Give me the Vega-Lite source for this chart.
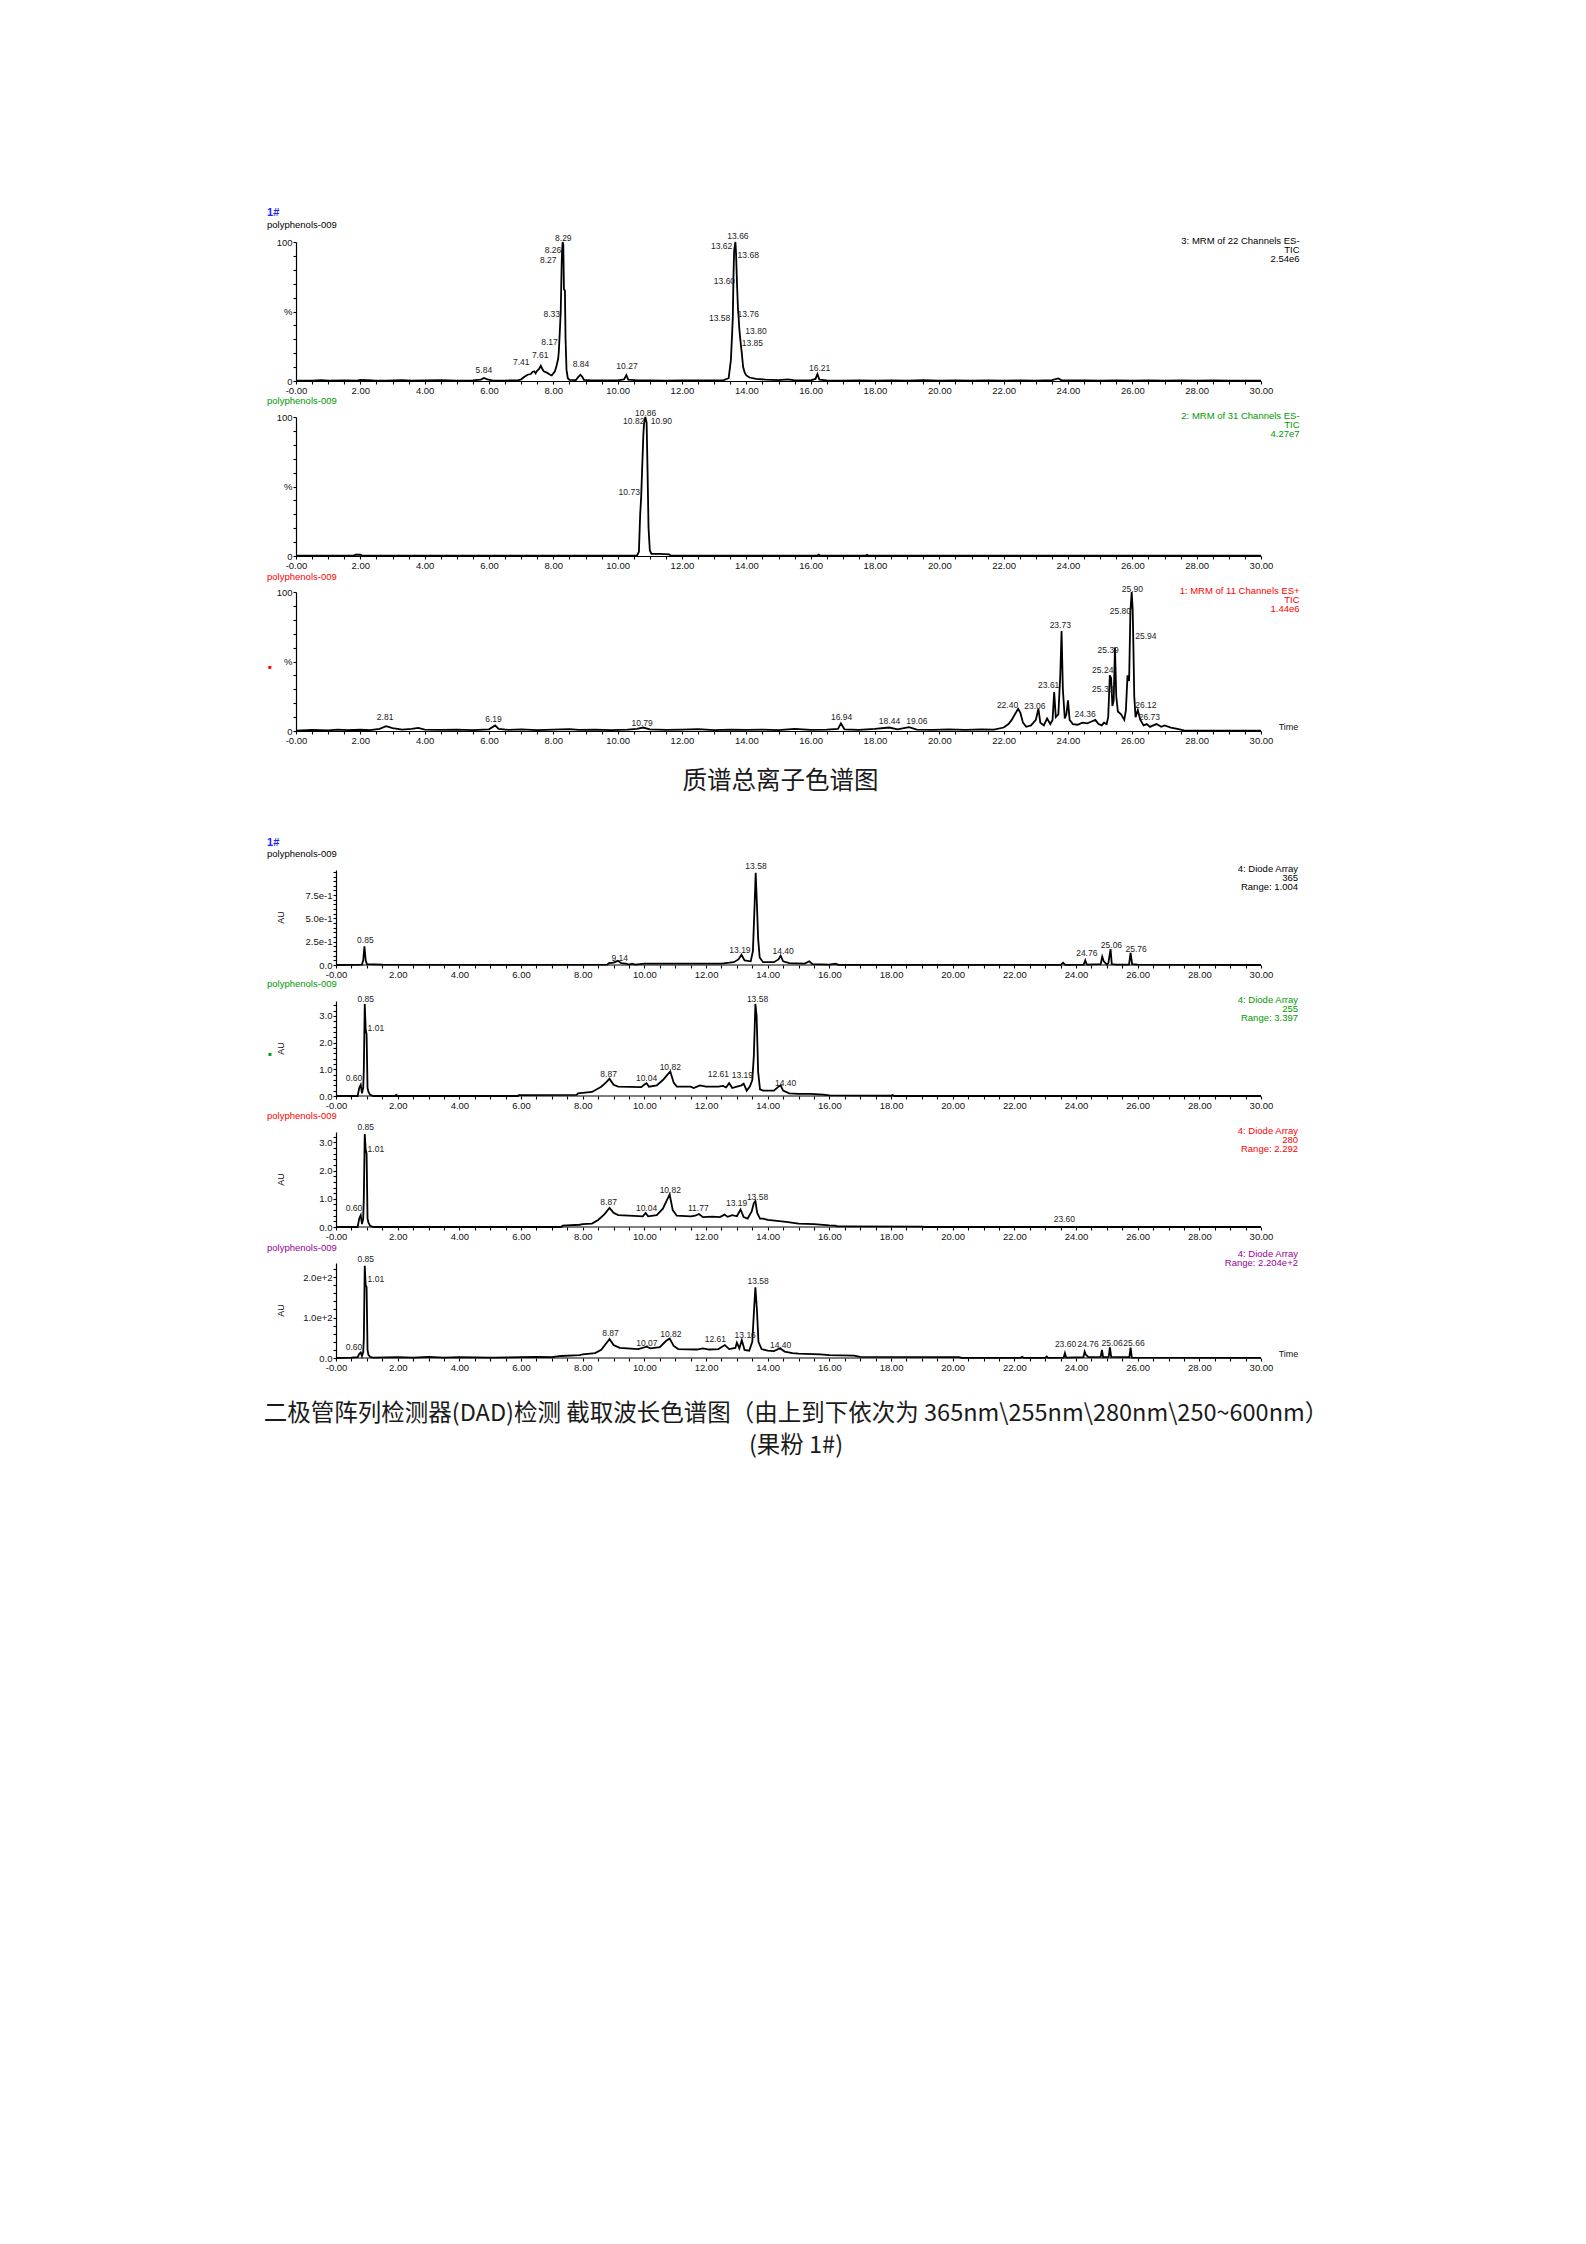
{
  "$schema": "https://vega.github.io/schema/vega-lite/v6.json",
  "description": "Chromatograms of sample polyphenols-009 (fruit powder 1#): three MRM TIC traces and four DAD wavelength traces",
  "background": "white",
  "padding": {"left": 263, "top": 207, "right": 20, "bottom": 20},
  "spacing": 36,
  "bounds": "flush",
  "config": {
    "view": {"stroke": null},
    "font": "Liberation Sans",
    "axis": {
      "labelFont": "Liberation Sans",
      "labelFontSize": 9.5,
      "labelColor": "#111111",
      "domainColor": "#000000",
      "domainWidth": 1.2,
      "tickColor": "#000000",
      "tickWidth": 1.1,
      "tickSize": 3,
      "labelPadding": 1,
      "grid": false,
      "labelOverlap": false,
      "labelFlush": false,
      "titleFont": "Liberation Sans",
      "titleFontSize": 9,
      "titleFontWeight": "normal",
      "titleColor": "#111111"
    },
    "text": {"font": "Liberation Sans", "fontSize": 9.5},
    "line": {"color": "black", "strokeWidth": 1.8}
  },
  "datasets": {
    "mrm1": [{"t":0,"v":0.2},{"t":0.5,"v":0.3},{"t":0.8,"v":0.6},{"t":1.0,"v":0.3},{"t":1.5,"v":0.5},{"t":1.9,"v":0.3},{"t":2.0,"v":0.8},{"t":2.4,"v":0.4},{"t":2.8,"v":0.3},{"t":3.3,"v":0.6},{"t":3.6,"v":0.3},{"t":4.0,"v":0.4},{"t":4.5,"v":0.6},{"t":5.0,"v":0.3},{"t":5.5,"v":0.4},{"t":5.75,"v":1.0},{"t":5.84,"v":2.2},{"t":5.95,"v":1.2},{"t":6.1,"v":0.4},{"t":6.5,"v":0.3},{"t":6.9,"v":0.5},{"t":7.0,"v":1.2},{"t":7.1,"v":3},{"t":7.2,"v":4.5},{"t":7.3,"v":5},{"t":7.35,"v":6.5},{"t":7.41,"v":7},{"t":7.45,"v":5.5},{"t":7.5,"v":7.5},{"t":7.55,"v":8.5},{"t":7.61,"v":11},{"t":7.65,"v":9},{"t":7.7,"v":7},{"t":7.8,"v":6},{"t":7.9,"v":4.5},{"t":7.95,"v":4},{"t":8.0,"v":5.5},{"t":8.05,"v":7},{"t":8.1,"v":11},{"t":8.15,"v":16},{"t":8.17,"v":21},{"t":8.2,"v":35},{"t":8.23,"v":50},{"t":8.26,"v":85},{"t":8.27,"v":93},{"t":8.29,"v":100},{"t":8.31,"v":98},{"t":8.33,"v":66},{"t":8.36,"v":65},{"t":8.38,"v":30},{"t":8.41,"v":8},{"t":8.45,"v":2},{"t":8.5,"v":0.8},{"t":8.7,"v":0.6},{"t":8.78,"v":3},{"t":8.84,"v":4.5},{"t":8.9,"v":3},{"t":8.95,"v":0.8},{"t":9.2,"v":0.4},{"t":9.6,"v":0.5},{"t":10.0,"v":0.4},{"t":10.2,"v":1.2},{"t":10.27,"v":4.2},{"t":10.33,"v":1},{"t":10.6,"v":0.4},{"t":11.0,"v":0.5},{"t":11.5,"v":0.3},{"t":12.0,"v":0.5},{"t":12.5,"v":0.4},{"t":13.0,"v":0.5},{"t":13.3,"v":0.6},{"t":13.45,"v":2},{"t":13.52,"v":15},{"t":13.56,"v":35},{"t":13.58,"v":46},{"t":13.6,"v":75},{"t":13.62,"v":93},{"t":13.64,"v":97},{"t":13.66,"v":100},{"t":13.68,"v":92},{"t":13.71,"v":70},{"t":13.74,"v":52},{"t":13.76,"v":46},{"t":13.78,"v":38},{"t":13.8,"v":33},{"t":13.83,"v":26},{"t":13.85,"v":22},{"t":13.9,"v":10},{"t":13.95,"v":6},{"t":14.0,"v":4},{"t":14.1,"v":2.5},{"t":14.3,"v":1.5},{"t":14.6,"v":1},{"t":15.0,"v":0.7},{"t":15.3,"v":1.2},{"t":15.5,"v":0.5},{"t":16.0,"v":0.4},{"t":16.15,"v":1.5},{"t":16.21,"v":5},{"t":16.27,"v":1},{"t":16.5,"v":0.4},{"t":17,"v":0.3},{"t":17.5,"v":0.5},{"t":18,"v":0.3},{"t":18.5,"v":0.5},{"t":19,"v":0.3},{"t":19.5,"v":0.6},{"t":20,"v":0.3},{"t":20.5,"v":0.5},{"t":21,"v":0.3},{"t":21.5,"v":0.4},{"t":22,"v":0.3},{"t":22.5,"v":0.5},{"t":23,"v":0.3},{"t":23.5,"v":0.6},{"t":23.7,"v":1.8},{"t":23.8,"v":0.5},{"t":24,"v":0.4},{"t":24.5,"v":0.5},{"t":25,"v":0.3},{"t":25.5,"v":0.4},{"t":26,"v":0.3},{"t":26.5,"v":0.5},{"t":27,"v":0.3},{"t":27.5,"v":0.4},{"t":28,"v":0.3},{"t":28.5,"v":0.4},{"t":29,"v":0.3},{"t":29.5,"v":0.2},{"t":30,"v":0.2}],
    "mrm1_pk": [{"t":5.84,"v":8,"lab":"5.84"},{"t":7.0,"v":14,"lab":"7.41"},{"t":7.59,"v":19,"lab":"7.61"},{"t":7.88,"v":28,"lab":"8.17"},{"t":7.95,"v":48,"lab":"8.33"},{"t":7.84,"v":87,"lab":"8.27"},{"t":7.99,"v":94,"lab":"8.26"},{"t":8.31,"v":103,"lab":"8.29"},{"t":8.86,"v":12,"lab":"8.84"},{"t":10.29,"v":11,"lab":"10.27"},{"t":13.74,"v":104,"lab":"13.66"},{"t":13.23,"v":97,"lab":"13.62"},{"t":14.06,"v":91,"lab":"13.68"},{"t":13.32,"v":72,"lab":"13.60"},{"t":13.17,"v":45,"lab":"13.58"},{"t":14.06,"v":48,"lab":"13.76"},{"t":14.3,"v":36,"lab":"13.80"},{"t":14.19,"v":27,"lab":"13.85"},{"t":16.28,"v":9,"lab":"16.21"}],
    "mrm2": [{"t":0,"v":0.2},{"t":1.8,"v":0.3},{"t":1.85,"v":0.9},{"t":2.0,"v":0.9},{"t":2.05,"v":0.3},{"t":4,"v":0.2},{"t":8,"v":0.2},{"t":10.6,"v":0.2},{"t":10.66,"v":3},{"t":10.7,"v":30},{"t":10.73,"v":42},{"t":10.76,"v":62},{"t":10.8,"v":88},{"t":10.82,"v":95},{"t":10.86,"v":100},{"t":10.88,"v":98},{"t":10.9,"v":96},{"t":10.93,"v":60},{"t":10.96,"v":20},{"t":11.0,"v":4},{"t":11.05,"v":1.5},{"t":11.3,"v":1.5},{"t":11.6,"v":1.2},{"t":11.65,"v":0.2},{"t":16.2,"v":0.2},{"t":16.25,"v":1},{"t":16.3,"v":0.2},{"t":17.7,"v":0.2},{"t":17.75,"v":0.8},{"t":17.8,"v":0.2},{"t":30,"v":0.2}],
    "mrm2_pk": [{"t":10.87,"v":103,"lab":"10.86"},{"t":10.5,"v":97,"lab":"10.82"},{"t":11.36,"v":97,"lab":"10.90"},{"t":10.36,"v":46,"lab":"10.73"}],
    "mrm3": [{"t":0,"v":0.3},{"t":0.5,"v":0.8},{"t":1.0,"v":0.5},{"t":1.3,"v":1.0},{"t":1.6,"v":0.6},{"t":2.0,"v":0.9},{"t":2.3,"v":0.6},{"t":2.6,"v":1.5},{"t":2.8,"v":3.5},{"t":3.0,"v":2},{"t":3.3,"v":1},{"t":3.6,"v":1.5},{"t":3.8,"v":2.2},{"t":4.0,"v":1},{"t":4.5,"v":0.8},{"t":5.0,"v":1.0},{"t":5.5,"v":0.7},{"t":6.0,"v":1.2},{"t":6.19,"v":4},{"t":6.3,"v":1.5},{"t":6.6,"v":0.8},{"t":7.0,"v":1.2},{"t":7.5,"v":0.7},{"t":8.0,"v":1},{"t":8.5,"v":1.3},{"t":8.8,"v":0.8},{"t":9.3,"v":1},{"t":9.8,"v":0.7},{"t":10.3,"v":1.0},{"t":10.6,"v":1.5},{"t":10.79,"v":2.5},{"t":11.0,"v":1.2},{"t":11.5,"v":0.8},{"t":12.0,"v":1},{"t":12.5,"v":1.3},{"t":13.0,"v":0.7},{"t":13.5,"v":1.0},{"t":14.0,"v":0.8},{"t":14.5,"v":1},{"t":15.0,"v":0.7},{"t":15.5,"v":1.5},{"t":16.0,"v":0.8},{"t":16.5,"v":1},{"t":16.85,"v":1.5},{"t":16.94,"v":5.5},{"t":17.05,"v":1.2},{"t":17.5,"v":0.8},{"t":18.0,"v":1.5},{"t":18.44,"v":2.5},{"t":18.7,"v":1.2},{"t":19.06,"v":2.8},{"t":19.3,"v":1.0},{"t":19.8,"v":0.8},{"t":20.3,"v":1.2},{"t":20.8,"v":0.8},{"t":21.3,"v":1.2},{"t":21.7,"v":1.0},{"t":22.0,"v":2.5},{"t":22.15,"v":5},{"t":22.25,"v":8},{"t":22.35,"v":12},{"t":22.45,"v":16},{"t":22.52,"v":13},{"t":22.6,"v":6},{"t":22.7,"v":3},{"t":22.85,"v":4},{"t":23.0,"v":8},{"t":23.08,"v":16},{"t":23.14,"v":6},{"t":23.25,"v":4},{"t":23.35,"v":9},{"t":23.45,"v":5},{"t":23.52,"v":8},{"t":23.57,"v":28},{"t":23.62,"v":10},{"t":23.7,"v":12},{"t":23.76,"v":40},{"t":23.8,"v":72},{"t":23.84,"v":30},{"t":23.9,"v":9},{"t":23.95,"v":12},{"t":24.0,"v":22},{"t":24.05,"v":8},{"t":24.15,"v":5},{"t":24.3,"v":4.5},{"t":24.45,"v":6},{"t":24.6,"v":5.5},{"t":24.75,"v":7},{"t":24.85,"v":8},{"t":24.95,"v":5},{"t":25.05,"v":4},{"t":25.12,"v":6},{"t":25.2,"v":5},{"t":25.25,"v":10},{"t":25.3,"v":40},{"t":25.34,"v":38},{"t":25.38,"v":18},{"t":25.42,"v":22},{"t":25.46,"v":60},{"t":25.5,"v":25},{"t":25.55,"v":14},{"t":25.65,"v":12},{"t":25.75,"v":8},{"t":25.8,"v":15},{"t":25.85,"v":40},{"t":25.9,"v":36},{"t":25.94,"v":86},{"t":25.98,"v":100},{"t":26.01,"v":88},{"t":26.03,"v":65},{"t":26.06,"v":25},{"t":26.1,"v":10},{"t":26.17,"v":15},{"t":26.25,"v":8},{"t":26.35,"v":4},{"t":26.45,"v":5},{"t":26.55,"v":3},{"t":26.65,"v":4},{"t":26.75,"v":5},{"t":26.9,"v":3},{"t":27.0,"v":4},{"t":27.2,"v":2.5},{"t":27.4,"v":1.5},{"t":27.6,"v":0.5},{"t":28.0,"v":0.3},{"t":29,"v":0.3},{"t":30,"v":0.3}],
    "mrm3_pk": [{"t":2.77,"v":10,"lab":"2.81"},{"t":6.14,"v":8.5,"lab":"6.19"},{"t":10.76,"v":6,"lab":"10.79"},{"t":16.96,"v":10,"lab":"16.94"},{"t":18.45,"v":7,"lab":"18.44"},{"t":19.3,"v":7,"lab":"19.06"},{"t":22.12,"v":19,"lab":"22.40"},{"t":22.97,"v":18,"lab":"23.06"},{"t":23.4,"v":33,"lab":"23.61"},{"t":23.76,"v":76,"lab":"23.73"},{"t":24.53,"v":12,"lab":"24.36"},{"t":25.08,"v":30,"lab":"25.33"},{"t":25.08,"v":44,"lab":"25.24"},{"t":25.25,"v":58,"lab":"25.39"},{"t":25.63,"v":86,"lab":"25.80"},{"t":26.0,"v":102,"lab":"25.90"},{"t":26.42,"v":68,"lab":"25.94"},{"t":26.42,"v":19,"lab":"26.12"},{"t":26.53,"v":10,"lab":"26.73"}],
    "dad1": [{"t":0,"v":0},{"t":0.5,"v":0.002},{"t":0.84,"v":0.005},{"t":0.88,"v":0.05},{"t":0.92,"v":0.2},{"t":0.96,"v":0.05},{"t":1.0,"v":0.01},{"t":1.5,"v":0.003},{"t":5,"v":0.002},{"t":8.8,"v":0.003},{"t":8.85,"v":0.02},{"t":9.0,"v":0.025},{"t":9.14,"v":0.045},{"t":9.25,"v":0.02},{"t":9.4,"v":0.015},{"t":9.5,"v":0.005},{"t":9.6,"v":0.015},{"t":9.7,"v":0.005},{"t":10.0,"v":0.015},{"t":12.5,"v":0.015},{"t":12.9,"v":0.03},{"t":13.05,"v":0.06},{"t":13.15,"v":0.11},{"t":13.25,"v":0.05},{"t":13.45,"v":0.04},{"t":13.52,"v":0.15},{"t":13.57,"v":0.6},{"t":13.61,"v":0.99},{"t":13.65,"v":0.65},{"t":13.69,"v":0.28},{"t":13.74,"v":0.08},{"t":13.85,"v":0.03},{"t":14.2,"v":0.03},{"t":14.35,"v":0.06},{"t":14.42,"v":0.1},{"t":14.5,"v":0.04},{"t":14.7,"v":0.02},{"t":15.2,"v":0.015},{"t":15.35,"v":0.04},{"t":15.45,"v":0.01},{"t":16.0,"v":0.005},{"t":16.2,"v":0.015},{"t":16.3,"v":0.002},{"t":23.5,"v":0.002},{"t":23.58,"v":0.025},{"t":23.65,"v":0.002},{"t":24.25,"v":0.005},{"t":24.3,"v":0.05},{"t":24.35,"v":0.005},{"t":24.8,"v":0.01},{"t":24.85,"v":0.09},{"t":24.9,"v":0.04},{"t":25.0,"v":0.005},{"t":25.05,"v":0.02},{"t":25.12,"v":0.17},{"t":25.16,"v":0.01},{"t":25.3,"v":0.003},{"t":25.72,"v":0.005},{"t":25.77,"v":0.13},{"t":25.82,"v":0.01},{"t":26.0,"v":0.003},{"t":30,"v":0}],
    "dad1_pk": [{"t":0.95,"v":0.27,"lab":"0.85"},{"t":9.2,"v":0.08,"lab":"9.14"},{"t":13.1,"v":0.16,"lab":"13.19"},{"t":13.62,"v":1.06,"lab":"13.58"},{"t":14.5,"v":0.15,"lab":"14.40"},{"t":24.35,"v":0.13,"lab":"24.76"},{"t":25.15,"v":0.22,"lab":"25.06"},{"t":25.95,"v":0.17,"lab":"25.76"}],
    "dad2": [{"t":0,"v":0},{"t":0.7,"v":0},{"t":0.75,"v":0.3},{"t":0.8,"v":0.42},{"t":0.84,"v":0.1},{"t":0.88,"v":0.3},{"t":0.9,"v":1.0},{"t":0.93,"v":3.45},{"t":0.96,"v":2.5},{"t":0.99,"v":2.3},{"t":1.02,"v":0.3},{"t":1.05,"v":0.15},{"t":1.1,"v":0.05},{"t":1.2,"v":0},{"t":1.9,"v":0},{"t":1.95,"v":0.04},{"t":2.0,"v":0},{"t":5.9,"v":0},{"t":5.92,"v":0.03},{"t":7.8,"v":0.04},{"t":7.85,"v":0.1},{"t":8.3,"v":0.15},{"t":8.6,"v":0.35},{"t":8.75,"v":0.5},{"t":8.87,"v":0.65},{"t":9.0,"v":0.42},{"t":9.15,"v":0.35},{"t":9.9,"v":0.33},{"t":10.0,"v":0.43},{"t":10.07,"v":0.48},{"t":10.15,"v":0.35},{"t":10.4,"v":0.4},{"t":10.6,"v":0.6},{"t":10.75,"v":0.8},{"t":10.84,"v":0.92},{"t":10.95,"v":0.5},{"t":11.05,"v":0.35},{"t":11.5,"v":0.35},{"t":11.6,"v":0.3},{"t":11.8,"v":0.4},{"t":12.0,"v":0.35},{"t":12.4,"v":0.35},{"t":12.55,"v":0.38},{"t":12.65,"v":0.32},{"t":12.75,"v":0.48},{"t":12.85,"v":0.3},{"t":13.0,"v":0.35},{"t":13.15,"v":0.4},{"t":13.22,"v":0.46},{"t":13.32,"v":0.2},{"t":13.42,"v":0.35},{"t":13.5,"v":0.6},{"t":13.55,"v":1.5},{"t":13.6,"v":3.45},{"t":13.64,"v":3.0},{"t":13.69,"v":0.9},{"t":13.75,"v":0.25},{"t":13.85,"v":0.2},{"t":14.2,"v":0.2},{"t":14.35,"v":0.35},{"t":14.42,"v":0.4},{"t":14.5,"v":0.2},{"t":14.7,"v":0.1},{"t":15.0,"v":0.08},{"t":15.4,"v":0.08},{"t":15.8,"v":0.05},{"t":16.0,"v":0.02},{"t":18.0,"v":0.01},{"t":18.05,"v":0.04},{"t":18.1,"v":0},{"t":30,"v":0}],
    "dad2_pk": [{"t":0.58,"v":0.67,"lab":"0.60"},{"t":0.96,"v":3.62,"lab":"0.85"},{"t":1.29,"v":2.56,"lab":"1.01"},{"t":8.84,"v":0.82,"lab":"8.87"},{"t":10.07,"v":0.67,"lab":"10.04"},{"t":10.84,"v":1.1,"lab":"10.82"},{"t":12.4,"v":0.83,"lab":"12.61"},{"t":13.18,"v":0.8,"lab":"13.19"},{"t":13.67,"v":3.64,"lab":"13.58"},{"t":14.58,"v":0.5,"lab":"14.40"}],
    "dad3": [{"t":0,"v":0},{"t":0.7,"v":0},{"t":0.75,"v":0.3},{"t":0.8,"v":0.42},{"t":0.84,"v":0.1},{"t":0.88,"v":0.3},{"t":0.9,"v":1.05},{"t":0.93,"v":3.3},{"t":0.96,"v":2.75},{"t":0.99,"v":2.6},{"t":1.02,"v":0.3},{"t":1.05,"v":0.15},{"t":1.1,"v":0.05},{"t":1.2,"v":0},{"t":7.3,"v":0},{"t":7.35,"v":0.05},{"t":7.9,"v":0.08},{"t":8.0,"v":0.1},{"t":8.3,"v":0.12},{"t":8.5,"v":0.25},{"t":8.7,"v":0.45},{"t":8.87,"v":0.68},{"t":9.0,"v":0.5},{"t":9.15,"v":0.42},{"t":9.5,"v":0.4},{"t":9.95,"v":0.38},{"t":10.04,"v":0.5},{"t":10.12,"v":0.38},{"t":10.4,"v":0.42},{"t":10.6,"v":0.65},{"t":10.75,"v":1.0},{"t":10.82,"v":1.15},{"t":10.92,"v":0.6},{"t":11.05,"v":0.4},{"t":11.5,"v":0.38},{"t":11.65,"v":0.4},{"t":11.77,"v":0.46},{"t":11.9,"v":0.35},{"t":12.2,"v":0.37},{"t":12.45,"v":0.35},{"t":12.6,"v":0.44},{"t":12.7,"v":0.36},{"t":12.85,"v":0.42},{"t":13.0,"v":0.38},{"t":13.12,"v":0.62},{"t":13.22,"v":0.35},{"t":13.35,"v":0.3},{"t":13.48,"v":0.55},{"t":13.55,"v":0.85},{"t":13.6,"v":0.92},{"t":13.66,"v":0.5},{"t":13.75,"v":0.3},{"t":13.85,"v":0.3},{"t":14.0,"v":0.25},{"t":14.3,"v":0.22},{"t":14.6,"v":0.18},{"t":15.0,"v":0.12},{"t":15.5,"v":0.1},{"t":16.0,"v":0.06},{"t":16.2,"v":0.05},{"t":16.25,"v":0.02},{"t":19.0,"v":0.01},{"t":19.1,"v":0},{"t":30,"v":0}],
    "dad3_pk": [{"t":0.58,"v":0.67,"lab":"0.60"},{"t":0.96,"v":3.55,"lab":"0.85"},{"t":1.29,"v":2.75,"lab":"1.01"},{"t":8.84,"v":0.88,"lab":"8.87"},{"t":10.07,"v":0.67,"lab":"10.04"},{"t":10.84,"v":1.33,"lab":"10.82"},{"t":11.75,"v":0.67,"lab":"11.77"},{"t":12.99,"v":0.85,"lab":"13.19"},{"t":13.67,"v":1.08,"lab":"13.58"},{"t":23.62,"v":0.27,"lab":"23.60"}],
    "dad4": [{"t":0,"v":0},{"t":0.5,"v":1},{"t":0.7,"v":2},{"t":0.75,"v":10},{"t":0.8,"v":14},{"t":0.84,"v":5},{"t":0.88,"v":15},{"t":0.9,"v":47},{"t":0.93,"v":228},{"t":0.96,"v":180},{"t":0.99,"v":175},{"t":1.02,"v":20},{"t":1.05,"v":8},{"t":1.1,"v":3},{"t":1.2,"v":1},{"t":2.0,"v":2},{"t":2.5,"v":1},{"t":3.0,"v":3},{"t":3.5,"v":1},{"t":4.0,"v":2},{"t":5.0,"v":1},{"t":6.0,"v":2},{"t":6.5,"v":3},{"t":7.0,"v":2},{"t":7.3,"v":5},{"t":7.9,"v":7},{"t":8.0,"v":9},{"t":8.4,"v":12},{"t":8.6,"v":20},{"t":8.87,"v":47},{"t":9.0,"v":32},{"t":9.2,"v":25},{"t":9.8,"v":22},{"t":10.07,"v":28},{"t":10.2,"v":24},{"t":10.5,"v":27},{"t":10.7,"v":42},{"t":10.82,"v":48},{"t":10.95,"v":30},{"t":11.1,"v":22},{"t":11.7,"v":21},{"t":11.9,"v":24},{"t":12.1,"v":21},{"t":12.4,"v":22},{"t":12.61,"v":32},{"t":12.75,"v":22},{"t":12.95,"v":25},{"t":13.0,"v":38},{"t":13.08,"v":24},{"t":13.16,"v":44},{"t":13.25,"v":20},{"t":13.4,"v":18},{"t":13.5,"v":40},{"t":13.55,"v":110},{"t":13.6,"v":175},{"t":13.65,"v":120},{"t":13.7,"v":40},{"t":13.8,"v":22},{"t":14.0,"v":18},{"t":14.2,"v":17},{"t":14.4,"v":24},{"t":14.55,"v":16},{"t":14.8,"v":12},{"t":15.0,"v":11},{"t":15.7,"v":9},{"t":16.0,"v":7},{"t":16.8,"v":6},{"t":17.0,"v":3},{"t":20.2,"v":2},{"t":20.3,"v":0.5},{"t":22.2,"v":0.5},{"t":22.25,"v":3},{"t":22.3,"v":0.5},{"t":23.0,"v":0.5},{"t":23.05,"v":4},{"t":23.1,"v":0.5},{"t":23.6,"v":1},{"t":23.64,"v":12},{"t":23.68,"v":1},{"t":24.24,"v":2},{"t":24.28,"v":16},{"t":24.32,"v":8},{"t":24.4,"v":2},{"t":24.8,"v":3},{"t":24.84,"v":20},{"t":24.88,"v":2},{"t":25.06,"v":3},{"t":25.1,"v":26},{"t":25.14,"v":3},{"t":25.73,"v":2},{"t":25.77,"v":26},{"t":25.81,"v":1},{"t":30,"v":0.5}],
    "dad4_pk": [{"t":0.58,"v":26,"lab":"0.60"},{"t":0.96,"v":244,"lab":"0.85"},{"t":1.29,"v":195,"lab":"1.01"},{"t":8.9,"v":62,"lab":"8.87"},{"t":10.08,"v":36,"lab":"10.07"},{"t":10.86,"v":60,"lab":"10.82"},{"t":12.3,"v":46,"lab":"12.61"},{"t":13.27,"v":58,"lab":"13.16"},{"t":13.69,"v":190,"lab":"13.58"},{"t":14.42,"v":33,"lab":"14.40"},{"t":23.66,"v":35,"lab":"23.60"},{"t":24.39,"v":35,"lab":"24.76"},{"t":25.17,"v":37,"lab":"25.06"},{"t":25.88,"v":37,"lab":"25.66"}]
  },
  "vconcat": [
    {
      "width": 965,
      "height": 139,
      "encoding": {
        "x": {"field": "t", "type": "quantitative", "scale": {"domain": [0, 30], "nice": false, "zero": false},
              "axis": {"title": null, "values": [0,0.5,1,1.5,2,2.5,3,3.5,4,4.5,5,5.5,6,6.5,7,7.5,8,8.5,9,9.5,10,10.5,11,11.5,12,12.5,13,13.5,14,14.5,15,15.5,16,16.5,17,17.5,18,18.5,19,19.5,20,20.5,21,21.5,22,22.5,23,23.5,24,24.5,25,25.5,26,26.5,27,27.5,28,28.5,29,29.5,30],
                       "labelExpr": "datum.value % 2 === 0 ? (datum.value === 0 ? '-0.00' : format(datum.value, '.2f')) : ''"}},
        "y": {"field": "v", "type": "quantitative", "scale": {"domain": [0, 100], "nice": false},
              "axis": {"title": null, "values": [0,10,20,30,40,50,60,70,80,90,100],
                       "labelExpr": "datum.value === 100 ? '100' : datum.value === 50 ? '%' : datum.value === 0 ? '0' : ''"}}
      },
      "layer": [
        {"data": {"name": "mrm1"}, "mark": {"type": "line"}},
        {"data": {"name": "mrm1_pk"}, "mark": {"type": "text", "fontSize": 8.5, "color": "#222222"}, "encoding": {"text": {"field": "lab"}}},
        {"data": {"values": [{"t": -0.9, "v": 100, "txt": "polyphenols-009"}]}, "mark": {"type": "text", "align": "left", "dy": -17, "color": "black"}, "encoding": {"text": {"field": "txt"}}},
        {"data": {"values": [{"t": -0.9, "v": 100, "txt": "1#"}]}, "mark": {"type": "text", "align": "left", "dy": -29, "fontSize": 11, "fontWeight": "bold", "color": "#1f1fff"}, "encoding": {"text": {"field": "txt"}}},
        {"data": {"values": [{"t": 31.2, "v": 100, "txt": "3: MRM of 22 Channels ES-\nTIC\n2.54e6"}]}, "mark": {"type": "text", "align": "right", "baseline": "bottom", "dy": 4, "lineBreak": "\n", "lineHeight": 9, "color": "black"}, "encoding": {"text": {"field": "txt"}}}
      ]
    },
    {
      "width": 965,
      "height": 139,
      "encoding": {
        "x": {"field": "t", "type": "quantitative", "scale": {"domain": [0, 30], "nice": false, "zero": false},
              "axis": {"title": null, "values": [0,0.5,1,1.5,2,2.5,3,3.5,4,4.5,5,5.5,6,6.5,7,7.5,8,8.5,9,9.5,10,10.5,11,11.5,12,12.5,13,13.5,14,14.5,15,15.5,16,16.5,17,17.5,18,18.5,19,19.5,20,20.5,21,21.5,22,22.5,23,23.5,24,24.5,25,25.5,26,26.5,27,27.5,28,28.5,29,29.5,30],
                       "labelExpr": "datum.value % 2 === 0 ? (datum.value === 0 ? '-0.00' : format(datum.value, '.2f')) : ''"}},
        "y": {"field": "v", "type": "quantitative", "scale": {"domain": [0, 100], "nice": false},
              "axis": {"title": null, "values": [0,10,20,30,40,50,60,70,80,90,100],
                       "labelExpr": "datum.value === 100 ? '100' : datum.value === 50 ? '%' : datum.value === 0 ? '0' : ''"}}
      },
      "layer": [
        {"data": {"name": "mrm2"}, "mark": {"type": "line"}},
        {"data": {"name": "mrm2_pk"}, "mark": {"type": "text", "fontSize": 8.5, "color": "#222222"}, "encoding": {"text": {"field": "lab"}}},
        {"data": {"values": [{"t": -0.9, "v": 100, "txt": "polyphenols-009"}]}, "mark": {"type": "text", "align": "left", "dy": -16, "color": "#009900"}, "encoding": {"text": {"field": "txt"}}},
        {"data": {"values": [{"t": 31.2, "v": 100, "txt": "2: MRM of 31 Channels ES-\nTIC\n4.27e7"}]}, "mark": {"type": "text", "align": "right", "baseline": "bottom", "dy": 4, "lineBreak": "\n", "lineHeight": 9, "color": "#009900"}, "encoding": {"text": {"field": "txt"}}}
      ]
    },
    {
      "width": 965,
      "height": 139,
      "title": {"text": "质谱总离子色谱图", "orient": "bottom", "anchor": "middle", "frame": "group", "offset": 25, "dx": 2, "fontSize": 24.5, "font": "Noto Sans CJK SC", "fontWeight": "normal", "color": "#1a1a1a"},
      "encoding": {
        "x": {"field": "t", "type": "quantitative", "scale": {"domain": [0, 30], "nice": false, "zero": false},
              "axis": {"title": "Time", "titleX": 992, "titleY": 0, "titleAlign": "center", "titleBaseline": "bottom",
                       "values": [0,0.5,1,1.5,2,2.5,3,3.5,4,4.5,5,5.5,6,6.5,7,7.5,8,8.5,9,9.5,10,10.5,11,11.5,12,12.5,13,13.5,14,14.5,15,15.5,16,16.5,17,17.5,18,18.5,19,19.5,20,20.5,21,21.5,22,22.5,23,23.5,24,24.5,25,25.5,26,26.5,27,27.5,28,28.5,29,29.5,30],
                       "labelExpr": "datum.value % 2 === 0 ? (datum.value === 0 ? '-0.00' : format(datum.value, '.2f')) : ''"}},
        "y": {"field": "v", "type": "quantitative", "scale": {"domain": [0, 100], "nice": false},
              "axis": {"title": null, "values": [0,10,20,30,40,50,60,70,80,90,100],
                       "labelExpr": "datum.value === 100 ? '100' : datum.value === 50 ? '%' : datum.value === 0 ? '0' : ''"}}
      },
      "layer": [
        {"data": {"name": "mrm3"}, "mark": {"type": "line"}},
        {"data": {"name": "mrm3_pk"}, "mark": {"type": "text", "fontSize": 8.5, "color": "#222222"}, "encoding": {"text": {"field": "lab"}}},
        {"data": {"values": [{"t": -0.9, "v": 100, "txt": "polyphenols-009"}]}, "mark": {"type": "text", "align": "left", "dy": -15, "color": "#ff0000"}, "encoding": {"text": {"field": "txt"}}},
        {"data": {"values": [{"t": -0.81, "v": 46, "txt": "■"}]}, "mark": {"type": "text", "fontSize": 6, "color": "#ff0000"}, "encoding": {"text": {"field": "txt"}}},
        {"data": {"values": [{"t": 31.2, "v": 100, "txt": "1: MRM of 11 Channels ES+\nTIC\n1.44e6"}]}, "mark": {"type": "text", "align": "right", "baseline": "bottom", "dy": 4, "lineBreak": "\n", "lineHeight": 9, "color": "#ff0000"}, "encoding": {"text": {"field": "txt"}}}
      ]
    },
    {
      "width": 965,
      "height": 67,
      "data": {"values": [{"t": 0}]},
      "mark": {"type": "text", "text": ""}
    },
    {
      "width": 965,
      "height": 95,
      "encoding": {
        "x": {"field": "t", "type": "quantitative", "scale": {"domain": [-1.3, 30], "nice": false, "zero": false},
              "axis": {"title": null, "domain": false, "values": [0,0.5,1,1.5,2,2.5,3,3.5,4,4.5,5,5.5,6,6.5,7,7.5,8,8.5,9,9.5,10,10.5,11,11.5,12,12.5,13,13.5,14,14.5,15,15.5,16,16.5,17,17.5,18,18.5,19,19.5,20,20.5,21,21.5,22,22.5,23,23.5,24,24.5,25,25.5,26,26.5,27,27.5,28,28.5,29,29.5,30],
                       "labelExpr": "datum.value % 2 === 0 ? (datum.value === 0 ? '-0.00' : format(datum.value, '.2f')) : ''"}},
        "y": {"field": "v", "type": "quantitative", "scale": {"domain": [0, 1.02], "nice": false},
              "axis": {"title": "AU", "offset": -40, "titleAngle": -90, "titleX": -56, "titleY": 47, "titleAlign": "center", "titleBaseline": "middle",
                       "values": [0,0.05,0.1,0.15,0.2,0.25,0.3,0.35,0.4,0.45,0.5,0.55,0.6,0.65,0.7,0.75,0.8,0.85,0.9,0.95,1],
                       "labelExpr": "datum.value === 0 ? '0.0' : datum.value === 0.25 ? '2.5e-1' : datum.value === 0.5 ? '5.0e-1' : datum.value === 0.75 ? '7.5e-1' : ''"}}
      },
      "layer": [
        {"data": {"values": [{"t": 0, "t2": 30, "v": 0}]}, "mark": {"type": "rule", "color": "black", "strokeWidth": 1.2}, "encoding": {"x2": {"field": "t2"}}},
        {"data": {"name": "dad1"}, "mark": {"type": "line"}},
        {"data": {"name": "dad1_pk"}, "mark": {"type": "text", "fontSize": 8.5, "color": "#222222"}, "encoding": {"text": {"field": "lab"}}},
        {"data": {"values": [{"t": -2.24, "v": 1.02, "txt": "polyphenols-009"}]}, "mark": {"type": "text", "align": "left", "dy": -16, "color": "black"}, "encoding": {"text": {"field": "txt"}}},
        {"data": {"values": [{"t": -2.24, "v": 1.02, "txt": "1#"}]}, "mark": {"type": "text", "align": "left", "dy": -27, "fontSize": 11, "fontWeight": "bold", "color": "#1f1fff"}, "encoding": {"text": {"field": "txt"}}},
        {"data": {"values": [{"t": 31.2, "v": 1.02, "txt": "4: Diode Array\n365\nRange: 1.004"}]}, "mark": {"type": "text", "align": "right", "baseline": "bottom", "dy": 4, "lineBreak": "\n", "lineHeight": 9, "color": "black"}, "encoding": {"text": {"field": "txt"}}}
      ]
    },
    {
      "width": 965,
      "height": 95,
      "encoding": {
        "x": {"field": "t", "type": "quantitative", "scale": {"domain": [-1.3, 30], "nice": false, "zero": false},
              "axis": {"title": null, "domain": false, "values": [0,0.5,1,1.5,2,2.5,3,3.5,4,4.5,5,5.5,6,6.5,7,7.5,8,8.5,9,9.5,10,10.5,11,11.5,12,12.5,13,13.5,14,14.5,15,15.5,16,16.5,17,17.5,18,18.5,19,19.5,20,20.5,21,21.5,22,22.5,23,23.5,24,24.5,25,25.5,26,26.5,27,27.5,28,28.5,29,29.5,30],
                       "labelExpr": "datum.value % 2 === 0 ? (datum.value === 0 ? '-0.00' : format(datum.value, '.2f')) : ''"}},
        "y": {"field": "v", "type": "quantitative", "scale": {"domain": [0, 3.56], "nice": false},
              "axis": {"title": "AU", "offset": -40, "titleAngle": -90, "titleX": -56, "titleY": 47, "titleAlign": "center", "titleBaseline": "middle",
                       "values": [0,0.2,0.4,0.6,0.8,1,1.2,1.4,1.6,1.8,2,2.2,2.4,2.6,2.8,3,3.2,3.4],
                       "labelExpr": "datum.value === 0 ? '0.0' : datum.value === 1 ? '1.0' : datum.value === 2 ? '2.0' : datum.value === 3 ? '3.0' : ''"}}
      },
      "layer": [
        {"data": {"values": [{"t": 0, "t2": 30, "v": 0}]}, "mark": {"type": "rule", "color": "black", "strokeWidth": 1.2}, "encoding": {"x2": {"field": "t2"}}},
        {"data": {"name": "dad2"}, "mark": {"type": "line"}},
        {"data": {"name": "dad2_pk"}, "mark": {"type": "text", "fontSize": 8.5, "color": "#222222"}, "encoding": {"text": {"field": "lab"}}},
        {"data": {"values": [{"t": -2.24, "v": 3.56, "txt": "polyphenols-009"}]}, "mark": {"type": "text", "align": "left", "dy": -17, "color": "#009900"}, "encoding": {"text": {"field": "txt"}}},
        {"data": {"values": [{"t": -2.14, "v": 1.57, "txt": "■"}]}, "mark": {"type": "text", "fontSize": 6, "color": "#009900"}, "encoding": {"text": {"field": "txt"}}},
        {"data": {"values": [{"t": 31.2, "v": 3.56, "txt": "4: Diode Array\n255\nRange: 3.397"}]}, "mark": {"type": "text", "align": "right", "baseline": "bottom", "dy": 4, "lineBreak": "\n", "lineHeight": 9, "color": "#009900"}, "encoding": {"text": {"field": "txt"}}}
      ]
    },
    {
      "width": 965,
      "height": 95,
      "encoding": {
        "x": {"field": "t", "type": "quantitative", "scale": {"domain": [-1.3, 30], "nice": false, "zero": false},
              "axis": {"title": null, "domain": false, "values": [0,0.5,1,1.5,2,2.5,3,3.5,4,4.5,5,5.5,6,6.5,7,7.5,8,8.5,9,9.5,10,10.5,11,11.5,12,12.5,13,13.5,14,14.5,15,15.5,16,16.5,17,17.5,18,18.5,19,19.5,20,20.5,21,21.5,22,22.5,23,23.5,24,24.5,25,25.5,26,26.5,27,27.5,28,28.5,29,29.5,30],
                       "labelExpr": "datum.value % 2 === 0 ? (datum.value === 0 ? '-0.00' : format(datum.value, '.2f')) : ''"}},
        "y": {"field": "v", "type": "quantitative", "scale": {"domain": [0, 3.37], "nice": false},
              "axis": {"title": "AU", "offset": -40, "titleAngle": -90, "titleX": -56, "titleY": 47, "titleAlign": "center", "titleBaseline": "middle",
                       "values": [0,0.2,0.4,0.6,0.8,1,1.2,1.4,1.6,1.8,2,2.2,2.4,2.6,2.8,3,3.2],
                       "labelExpr": "datum.value === 0 ? '0.0' : datum.value === 1 ? '1.0' : datum.value === 2 ? '2.0' : datum.value === 3 ? '3.0' : ''"}}
      },
      "layer": [
        {"data": {"values": [{"t": 0, "t2": 30, "v": 0}]}, "mark": {"type": "rule", "color": "black", "strokeWidth": 1.2}, "encoding": {"x2": {"field": "t2"}}},
        {"data": {"name": "dad3"}, "mark": {"type": "line"}},
        {"data": {"name": "dad3_pk"}, "mark": {"type": "text", "fontSize": 8.5, "color": "#222222"}, "encoding": {"text": {"field": "lab"}}},
        {"data": {"values": [{"t": -2.24, "v": 3.37, "txt": "polyphenols-009"}]}, "mark": {"type": "text", "align": "left", "dy": -16, "color": "#ff0000"}, "encoding": {"text": {"field": "txt"}}},
        {"data": {"values": [{"t": 31.2, "v": 3.37, "txt": "4: Diode Array\n280\nRange: 2.292"}]}, "mark": {"type": "text", "align": "right", "baseline": "bottom", "dy": 4, "lineBreak": "\n", "lineHeight": 9, "color": "#ff0000"}, "encoding": {"text": {"field": "txt"}}}
      ]
    },
    {
      "width": 965,
      "height": 95,
      "title": {"text": ["二极管阵列检测器(DAD)检测 截取波长色谱图（由上到下依次为 365nm\\255nm\\280nm\\250~600nm）", "(果粉 1#)"], "orient": "bottom", "anchor": "middle", "frame": "group", "offset": 30, "dx": 17.5, "fontSize": 23.5, "lineHeight": 32, "font": "Noto Sans CJK SC", "fontWeight": "normal", "color": "#1a1a1a"},
      "encoding": {
        "x": {"field": "t", "type": "quantitative", "scale": {"domain": [-1.3, 30], "nice": false, "zero": false},
              "axis": {"title": "Time", "titleX": 992, "titleY": 0, "titleAlign": "center", "titleBaseline": "bottom", "domain": false,
                       "values": [0,0.5,1,1.5,2,2.5,3,3.5,4,4.5,5,5.5,6,6.5,7,7.5,8,8.5,9,9.5,10,10.5,11,11.5,12,12.5,13,13.5,14,14.5,15,15.5,16,16.5,17,17.5,18,18.5,19,19.5,20,20.5,21,21.5,22,22.5,23,23.5,24,24.5,25,25.5,26,26.5,27,27.5,28,28.5,29,29.5,30],
                       "labelExpr": "datum.value % 2 === 0 ? (datum.value === 0 ? '-0.00' : format(datum.value, '.2f')) : ''"}},
        "y": {"field": "v", "type": "quantitative", "scale": {"domain": [0, 235], "nice": false},
              "axis": {"title": "AU", "offset": -40, "titleAngle": -90, "titleX": -56, "titleY": 47, "titleAlign": "center", "titleBaseline": "middle",
                       "values": [0,20,40,60,80,100,120,140,160,180,200,220],
                       "labelExpr": "datum.value === 0 ? '0.0' : datum.value === 100 ? '1.0e+2' : datum.value === 200 ? '2.0e+2' : ''"}}
      },
      "layer": [
        {"data": {"values": [{"t": 0, "t2": 30, "v": 0}]}, "mark": {"type": "rule", "color": "black", "strokeWidth": 1.2}, "encoding": {"x2": {"field": "t2"}}},
        {"data": {"name": "dad4"}, "mark": {"type": "line"}},
        {"data": {"name": "dad4_pk"}, "mark": {"type": "text", "fontSize": 8.5, "color": "#222222"}, "encoding": {"text": {"field": "lab"}}},
        {"data": {"values": [{"t": -2.24, "v": 235, "txt": "polyphenols-009"}]}, "mark": {"type": "text", "align": "left", "dy": -15, "color": "#990099"}, "encoding": {"text": {"field": "txt"}}},
        {"data": {"values": [{"t": 31.2, "v": 235, "txt": "4: Diode Array\nRange: 2.204e+2"}]}, "mark": {"type": "text", "align": "right", "baseline": "bottom", "dy": -4, "lineBreak": "\n", "lineHeight": 9, "color": "#990099"}, "encoding": {"text": {"field": "txt"}}}
      ]
    }
  ]
}
